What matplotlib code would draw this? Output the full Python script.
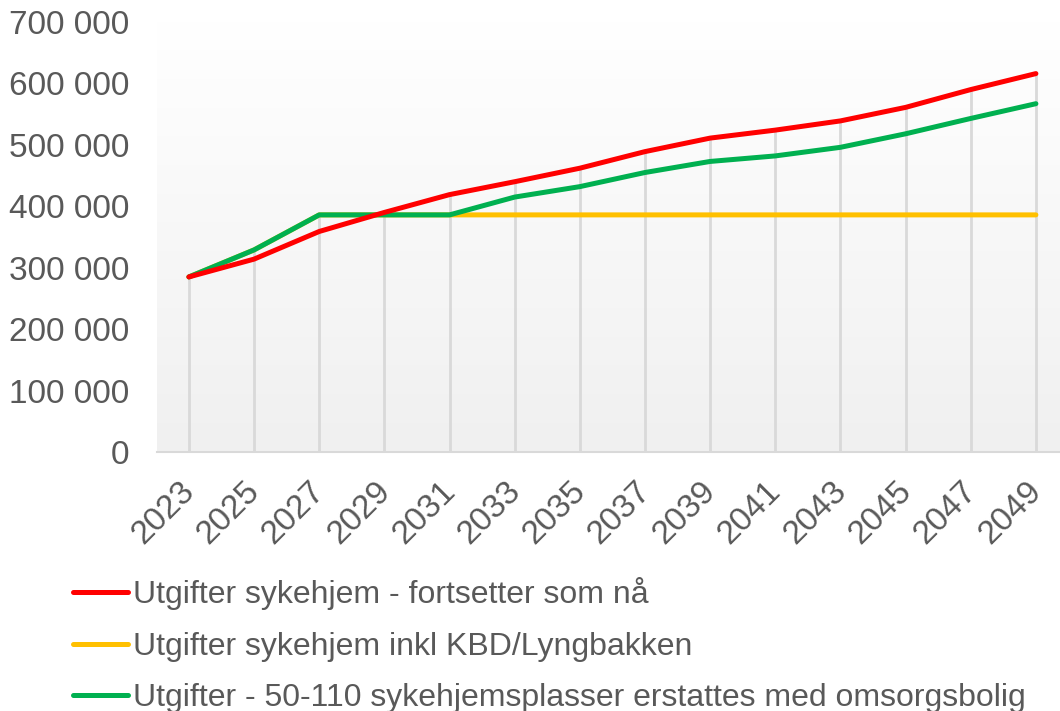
import numpy as np
import matplotlib.pyplot as plt
from matplotlib.colors import LinearSegmentedColormap
from matplotlib.ticker import FuncFormatter
from matplotlib.transforms import ScaledTranslation

years = ['2023', '2025', '2027', '2029', '2031', '2033', '2035', '2037',
         '2039', '2041', '2043', '2045', '2047', '2049']
red_vals = [285000, 314000, 359000, 390000, 419000, 440000, 462000, 489000,
            511000, 524000, 539000, 561000, 590000, 616000]
yellow_vals = [285000, 329000, 386000, 386000, 386000, 386000, 386000, 386000,
               386000, 386000, 386000, 386000, 386000, 386000]
green_vals = [285000, 329000, 386000, 386000, 386000, 415000, 432000, 455000,
              473000, 482000, 496000, 518000, 543000, 567000]
labels = ['Utgifter sykehjem - fortsetter som nå',
          'Utgifter sykehjem inkl KBD/Lyngbakken',
          'Utgifter - 50-110 sykehjemsplasser erstattes med omsorgsbolig']
colors = ['#FF0000', '#FFC000', '#00B050']

plt.rcParams['font.family'] = ['Liberation Sans', 'DejaVu Sans']
txt = '#595959'

fig = plt.figure(figsize=(10.6, 7.11), dpi=100)
ax = fig.add_axes([157/1060, 1-452/711, 1-157/1060, (452-22)/711])

x = np.arange(len(years))
ax.set_xlim(-0.49, 13.37)
ax.set_ylim(0, 700000)

# gradient background (white at top, light grey at bottom)
grad = np.linspace(0, 1, 256).reshape(-1, 1)
cmap = LinearSegmentedColormap.from_list('bg', ['#F0F0F0', '#FFFFFF'])
ax.imshow(grad, extent=[-0.49, 13.37, 0, 700000], aspect='auto', cmap=cmap,
          zorder=0, origin='lower', vmin=0, vmax=1)

# drop lines
tops = np.maximum(np.maximum(red_vals, yellow_vals), green_vals)
ax.vlines(x, 0, tops, color='#D9D9D9', lw=2, zorder=1)

ax.plot(x, yellow_vals, color=colors[1], lw=3.6, label=labels[1], zorder=3,
        solid_capstyle='round')
ax.plot(x, green_vals, color=colors[2], lw=3.6, label=labels[2], zorder=3,
        solid_capstyle='round')
ax.plot(x, red_vals, color=colors[0], lw=3.6, label=labels[0], zorder=4,
        solid_capstyle='round')

for s in ['top', 'right', 'left']:
    ax.spines[s].set_visible(False)
ax.spines['bottom'].set_color('#D9D9D9')
ax.spines['bottom'].set_linewidth(1.5)

ax.set_yticks(range(0, 700001, 100000))
ax.yaxis.set_major_formatter(FuncFormatter(lambda v, p: f'{int(v):,}'.replace(',', ' ')))
ax.set_xticks(x)
ax.set_xticklabels(years, rotation=45, ha='right', rotation_mode='anchor')
ax.tick_params(axis='both', length=0, labelsize=24, colors=txt)
ax.tick_params(axis='y', pad=20)
ax.tick_params(axis='x', pad=4)
shift = ScaledTranslation(-10/100, -18/100, fig.dpi_scale_trans)
for lab in ax.get_xticklabels():
    lab.set_transform(lab.get_transform() + shift)

h, l = ax.get_legend_handles_labels()
order = [2, 0, 1]
leg = fig.legend([h[i] for i in order], [l[i] for i in order],
                 loc='upper left', bbox_to_anchor=(73/1060, 1-577/711),
                 frameon=False, fontsize=23, handlelength=1.72,
                 handletextpad=0.15, labelspacing=0.68, borderpad=0,
                 borderaxespad=0)
for t in leg.get_texts():
    t.set_color(txt)

fig.savefig('out.png', dpi=100)
